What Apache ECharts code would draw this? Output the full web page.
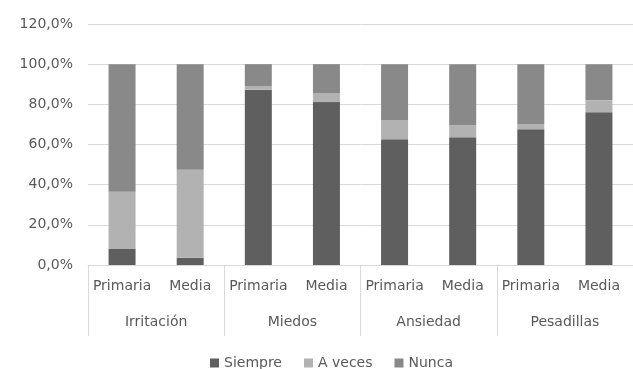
<!DOCTYPE html>
<html>
<head>
<meta charset="utf-8">
<script src="https://cdn.jsdelivr.net/npm/echarts@6/dist/echarts.min.js"></script>
<style>
  html, body { margin: 0; padding: 0; background: #fff; }
  #chart { width: 633px; height: 369px; }
</style>
</head>
<body>
<div id="chart"></div>
<script>
// Sub-categories (school level) and their parent groups (symptom)
const levels = ['Primaria', 'Media', 'Primaria', 'Media', 'Primaria', 'Media', 'Primaria', 'Media'];
const groups = ['Irritación', 'Miedos', 'Ansiedad', 'Pesadillas'];

// Percentages per answer, one value per level/group pair
const siempre = [8.0, 3.6, 87.3, 81.1, 62.6, 63.6, 67.6, 76.1];
const aVeces  = [28.5, 43.8, 1.6, 4.3, 9.5, 6.0, 2.6, 6.0];
const nunca   = [63.5, 52.6, 11.1, 14.6, 27.9, 30.4, 29.8, 17.9];

// Value axis ticks
const yTicks = [0, 20, 40, 60, 80, 100, 120];

const FONT = 'DejaVu Sans';
const FONT_SIZE = 14;
const TEXT_COLOR = '#595959';
const LINE_COLOR = '#d9d9d9';

const chart = echarts.init(document.getElementById('chart'), null, { renderer: 'canvas' });

const barSeries = (name, data, color) => ({
  name,
  type: 'bar',
  stack: 'total',
  xAxisIndex: 0,
  barWidth: 27,
  data,
  itemStyle: { color },
  emphasis: { disabled: true }
});

chart.setOption({
  animation: false,
  backgroundColor: '#ffffff',
  textStyle: { fontFamily: FONT },
  grid: { left: 88, right: -6, top: 24, bottom: 104, containLabel: false },
  legend: {
    left: 210,
    top: 356,
    padding: 0,
    icon: 'rect',
    itemWidth: 9,
    itemHeight: 9,
    itemGap: 22,
    textStyle: { fontFamily: FONT, fontSize: FONT_SIZE, color: TEXT_COLOR },
    data: ['Siempre', 'A veces', 'Nunca']
  },
  xAxis: [
    {
      type: 'category',
      data: levels,
      position: 'bottom',
      axisLine: { lineStyle: { color: LINE_COLOR, width: 1 } },
      axisTick: { show: false },
      axisLabel: { interval: 0, margin: 14, fontFamily: FONT, fontSize: FONT_SIZE, color: TEXT_COLOR }
    },
    {
      type: 'category',
      data: groups,
      position: 'bottom',
      axisLine: { show: false },
      axisTick: { show: true, length: 71, lineStyle: { color: LINE_COLOR, width: 1 } },
      axisLabel: { interval: 0, margin: 50, fontFamily: FONT, fontSize: FONT_SIZE, color: TEXT_COLOR },
      splitLine: { show: false }
    }
  ],
  yAxis: {
    type: 'value',
    min: yTicks[0],
    max: yTicks[yTicks.length - 1],
    interval: 20,
    axisLine: { show: false },
    axisTick: { show: false },
    splitLine: { lineStyle: { color: LINE_COLOR, width: 1 } },
    axisLabel: {
      margin: 15,
      fontFamily: FONT,
      fontSize: FONT_SIZE,
      color: TEXT_COLOR,
      formatter: v => v.toFixed(1).replace('.', ',') + '%'
    }
  },
  series: [
    barSeries('Siempre', siempre, '#5f5f5f'),
    barSeries('A veces', aVeces, '#b2b2b2'),
    barSeries('Nunca', nunca, '#898989')
  ]
});
</script>
</body>
</html>
